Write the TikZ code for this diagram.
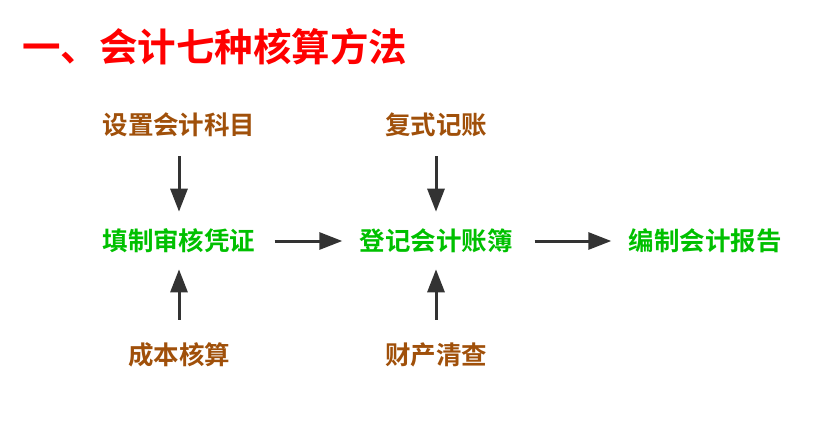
\documentclass[tikz,border=0pt]{standalone}
\usepackage{fontspec}
\setmainfont{Noto Sans CJK SC}[BoldFont={Noto Sans CJK SC Bold}]
\usetikzlibrary{arrows.meta}
\definecolor{titlered}{HTML}{FF0000}
\definecolor{stepgreen}{HTML}{00C000}
\definecolor{srcbrown}{HTML}{A0500A}
\definecolor{arrowgray}{HTML}{333333}
\begin{document}
\begin{tikzpicture}[x=1pt,y=-1pt,
    src/.style={inner sep=0pt,text=srcbrown,font=\fontsize{25.5}{25.5}\selectfont\bfseries},
    main/.style={inner sep=0pt,text=stepgreen,font=\fontsize{25.5}{25.5}\selectfont\bfseries},
    flow/.style={draw=arrowgray,line width=3pt,-{Triangle[length=23pt,width=17pt]},
      shorten <=19pt,shorten >=17pt}]
      \useasboundingbox (0,0) rectangle (815,432);
      \node[anchor=west,inner sep=0pt,text=titlered,font=\fontsize{38.5}{38.5}\selectfont\bfseries]
        (title) at (22,47) {一、会计七种核算方法};
      \draw
        (179,125) node[src] (km){设置会计科目}
        (436,125) node[src] (fs){复式记账}
        (179,241) node[main] (pz){填制审核凭证}
        (436,241) node[main] (zb){登记会计账簿}
        (705,241) node[main] (bg){编制会计报告}
        (179,355) node[src] (cb){成本核算}
        (436,355) node[src] (cc){财产清查};
      \begin{scope}[flow]
        \draw (km) to (pz);
        \draw (fs) to (zb);
        \draw[shorten <=23pt,shorten >=16pt] (cb) to (pz);
        \draw[shorten <=23pt,shorten >=16pt] (cc) to (zb);
        \draw (pz) to (zb);
        \draw[shorten <=22pt] (zb) to (bg);
      \end{scope}
    \end{tikzpicture}
\end{document}
